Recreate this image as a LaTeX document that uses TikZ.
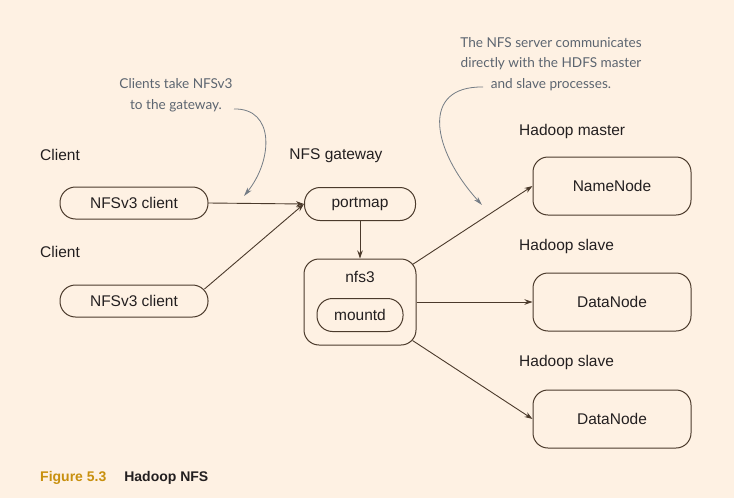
\documentclass[tikz,border=0pt]{standalone}
\usepackage{fontspec}
\setmainfont{Liberation Sans}
\newfontfamily\notefont{Lato}
\usetikzlibrary{shapes,shapes.geometric,calc,positioning,arrows.meta}
\definecolor{paper}{HTML}{FEF1E3}
\definecolor{ink}{HTML}{231F20}
\definecolor{edge}{HTML}{4B3A2B}
\definecolor{note}{HTML}{5C6570}
\definecolor{gold}{HTML}{C8900E}

\begin{document}
\begin{tikzpicture}
	[x=1pt,y=-1pt,every node/.style={font=\fontsize{15.5}{18}\selectfont,text=ink},
		pill/.style={shape=rectangle,draw=edge,line width=1pt,rounded corners=15.5pt,
			minimum width=148pt,minimum height=32pt,inner sep=0pt},
		server/.style={pill,minimum width=158pt,minimum height=58pt,rounded corners=15pt},
		tag/.style={anchor=west,inner sep=0pt},
		link/.style={draw=edge,line width=0.9pt,-{Stealth[length=8pt,width=5.5pt]}},
		remark/.style={font=\notefont\fontsize{13.6}{20.5}\selectfont,text=note,align=center},
		remarklink/.style={draw=note!85,line width=0.8pt,-{Stealth[length=9pt,width=5pt]}}]

	\fill[paper] (0,0) rectangle (734,498);
	\useasboundingbox (0,0) rectangle (734,498);

	% clients
	\node[tag] (c1lbl) at (40,155) {Client};
	\node[pill] (client1) at (134,203) {NFSv3 client};
	\node[tag] (c2lbl) at (40,252) {Client};
	\node[pill] (client2) at (134,301) {NFSv3 client};

	% gateway
	\node (gwlbl) at (336,156) {NFS gateway};
	\node[pill,minimum width=111pt,minimum height=33pt] (portmap) at (360,204) {portmap};
	\node[pill,minimum width=112pt,minimum height=86pt,rounded corners=15pt] (nfs3) at (360,302) {};
	\node (nfs3lbl) at (360,277) {nfs3};
	\node[pill,minimum width=86pt,minimum height=33pt] (mountd) at (360,315) {mountd};

	% hadoop side
	\node[tag] (mlbl) at (519,131) {Hadoop master};
	\node[server] (namenode) at (612,186) {NameNode};
	\node[tag] (s1lbl) at (519,246) {Hadoop slave};
	\node[server] (datanode1) at (612,302) {DataNode};
	\node[tag] (s2lbl) at (519,362) {Hadoop slave};
	\node[server] (datanode2) at (612,419) {DataNode};

	\path
	\foreach \startNode/\endNode in {client1.east/portmap.west,portmap.south/nfs3.north,nfs3.east/datanode1.west}{
		(\startNode) edge[link] (\endNode)
	};
	\draw[link] ([xshift=-4pt,yshift=12pt]client2.east) -- (portmap.west);
	\draw[link] ([xshift=-4pt,yshift=-6pt]nfs3.north east) -- (namenode.west);
	\draw[link] ([xshift=-4pt,yshift=5pt]nfs3.south east) -- (datanode2.west);

	% remarks
	\node[remark] (note1) at (176,95) {Clients take NFSv3\\to the gateway.};
	\coordinate (note1end) at (244,196);
	\draw[remarklink] (234,109) .. controls (275,108) and (273,160) .. (note1end);
	\node[remark] (note2) at (551,64) {The NFS server communicates\\directly with the HDFS master\\and slave processes.};
	\coordinate (note2end) at (482,205);
	\draw[remarklink] (483,87) .. controls (420,86) and (432,150) .. (note2end);

	% caption
	\node[tag,font=\bfseries\fontsize{14}{16}\selectfont] (caption) at (40,478)
		{\textcolor{gold}{Figure 5.3}\hspace{18pt}Hadoop NFS};
\end{tikzpicture}
\end{document}
